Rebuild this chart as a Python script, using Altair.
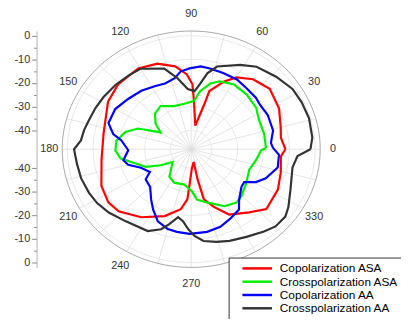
import altair as alt
import pandas as pd
import numpy as np

SERIES = ["Copolarization ASA", "Crosspolarization ASA", "Copolarization AA", "Crosspolarization AA"]
COLORS = ["#ff0000", "#00ee00", "#0000ff", "#333333"]

# radial scale (dB): centre and outer frame
DB_CENTER = -48
DB_OUTER = 2

RED_ANG = [0, 8, 15, 27, 40, 51, 60, 66, 74, 75, 81, 87, 89, 93, 100, 110, 121, 136, 148, 169, 187, 204,
           215, 223, 236, 250, 261, 266, 272, 280, 281, 283, 290, 298, 310, 319, 333, 344, 355]
RED_DB = [-11.5, -12.9, -12.1, -9.8, -8.3, -9.9, -12.9, -16.6, -22.4, -28.1, -37.9, -27.6, -20.5, -16.3,
          -12.4, -9.5, -8.1, -8.6, -10.0, -13.4, -13.0, -9.9, -8.8, -9.5, -13.3, -17.9, -22.3, -26.7, -40.0,
          -42.5, -35.0, -26.2, -21.9, -16.7, -13.1, -9.4, -10.3, -11.9, -13.1]

GREEN_ANG = [1, 13, 25, 35, 47, 59, 69, 75, 82, 87, 98, 110, 123, 133, 142, 149, 157, 164, 173, 181, 188,
             193, 203, 210, 217, 234, 245, 260, 271, 276, 285, 298, 308, 314, 326, 339, 350, 359]
GREEN_DB = [-19.0, -19.0, -19.0, -17.3, -16.4, -16.0, -17.2, -19.2, -23.2, -27.6, -28.6, -28.6, -26.2,
            -27.4, -30.5, -34.2, -25.6, -21.5, -18.8, -18.6, -20.3, -24.1, -28.9, -34.4, -39.0, -33.6,
            -32.4, -32.8, -30.1, -26.6, -24.7, -20.7, -19.4, -20.1, -22.3, -23.9, -22.4, -20.9]

BLUE_ANG = [1, 5, 14, 26, 35, 41, 50, 59, 69, 78, 84, 91, 97, 102, 110, 118, 128, 139, 150, 161, 168, 172,
            181, 190, 195, 202, 211, 216, 225, 234, 240, 247, 255, 261, 269, 280, 289, 297, 306, 311, 321,
            326, 331, 337, 347, 356]
BLUE_DB = [-16.3, -17.0, -15.3, -15.0, -15.4, -14.8, -14.5, -13.6, -13.5, -13.1, -12.8, -13.8, -14.8,
           -17.3, -18.4, -17.8, -16.6, -15.6, -14.0, -14.1, -17.1, -20.6, -23.6, -21.3, -22.7, -27.0,
           -29.3, -26.2, -25.5, -21.6, -18.5, -14.9, -13.0, -12.6, -12.2, -12.5, -13.3, -14.9, -16.5,
           -19.7, -22.9, -23.2, -19.3, -16.6, -13.6, -13.9]

BLACK_ANG = [0, 6, 16, 25, 33, 43, 54, 62, 74, 79, 83, 87, 93, 100, 107, 120, 128, 137, 147, 155, 163,
             169, 175, 180, 188, 196, 205, 212, 220, 230, 244, 251, 255, 260, 264, 268, 272, 277, 284,
             291, 300, 309, 315, 322, 327, 336, 349, 356]
BLACK_DB = [-1.8, -0.8, -0.5, -0.8, -1.2, -3.0, -4.9, -7.6, -11.6, -15.3, -20.3, -23.4, -22.5, -17.5,
            -12.3, -8.7, -8.5, -8.0, -7.5, -7.0, -6.5, -5.7, -5.1, -2.6, -3.3, -3.6, -4.3, -5.0, -6.3,
            -8.3, -9.5, -12.2, -15.2, -18.8, -17.4, -14.2, -11.3, -8.9, -7.6, -6.5, -5.2, -3.2, -1.8,
            -1.7, -3.1, -5.9, -8.0, -6.7]

RING_DB = [-40, -30, -20, -10, 0]
SPOKE_ANG = list(range(0, 360, 15))
LABEL_ANG = list(range(0, 360, 30))
AXIS_DB = [0, -10, -20, -30, -40]
AXIS_MINOR_DB = [-5, -15, -25, -35]

R_MAX = DB_OUTER - DB_CENTER
FONT = "Liberation Sans"

rows = []
for name, angs, dbs in zip(SERIES, [RED_ANG, GREEN_ANG, BLUE_ANG, BLACK_ANG],
                           [RED_DB, GREEN_DB, BLUE_DB, BLACK_DB]):
    aa = angs + [angs[0]]
    dd = dbs + [dbs[0]]
    for i, (a, d) in enumerate(zip(aa, dd)):
        rows.append({"series": name, "angle": a, "db": d, "order": i})
curves = pd.DataFrame(rows)

ring_rows = []
for rdb in RING_DB + [DB_OUTER]:
    for a in range(0, 361, 3):
        ring_rows.append({"ring": rdb, "angle": a, "db": rdb, "outer": rdb == DB_OUTER})
rings = pd.DataFrame(ring_rows)

spokes = pd.DataFrame({"angle": SPOKE_ANG})
labels = pd.DataFrame({"angle": LABEL_ANG, "text": [str(a) for a in LABEL_ANG]})

xs = alt.Scale(domain=[-R_MAX, R_MAX], nice=False, zero=False)
ys = alt.Scale(domain=[-R_MAX, R_MAX], nice=False, zero=False)


def polarize(ch):
    return ch.transform_calculate(r=f"datum.db - ({DB_CENTER})").transform_calculate(
        x="datum.r * cos(datum.angle * PI / 180)",
        y="datum.r * sin(datum.angle * PI / 180)")


ticks_all = []
for d in AXIS_DB + AXIS_MINOR_DB:
    v = d - DB_CENTER
    ticks_all += [v, -v]
ticks_all = sorted(ticks_all)

label_expr = (f"abs(datum.value) == {-DB_CENTER} ? '0' : "
              f"((abs(datum.value) + 2) % 10 == 0 ? '-' + toString({-DB_CENTER} - abs(datum.value)) : '')")

y_axis = alt.Axis(orient="left", offset=26, values=ticks_all, labelExpr=label_expr, grid=False,
                  title=None, domainColor="#b0b0b0", tickColor="#888888",
                  tickSize={"condition": {"test": "(abs(datum.value) + 2) % 10 == 0", "value": 5}, "value": 3},
                  labelFont=FONT, labelFontSize=11, labelColor="#333333", labelPadding=2,
                  labelOverlap=False)

X = lambda f: alt.X(f, scale=xs, axis=None)
Y = lambda f: alt.Y(f, scale=ys, axis=y_axis)

spoke_layer = alt.Chart(spokes).mark_rule(color="#dcdcdc", strokeWidth=0.8).transform_calculate(
    x0="0", y0="0",
    x1=f"{R_MAX} * cos(datum.angle * PI / 180)",
    y1=f"{R_MAX} * sin(datum.angle * PI / 180)",
).encode(
    x=X("x0:Q"), y=Y("y0:Q"),
    x2="x1:Q", y2="y1:Q",
)

ring_layer = polarize(alt.Chart(rings).transform_filter("!datum.outer")).mark_line(
    color="#e2e2e2", strokeWidth=0.8).encode(
    x=X("x:Q"), y=Y("y:Q"),
    detail="ring:N", order="angle:Q",
)

frame_layer = polarize(alt.Chart(rings).transform_filter("datum.outer")).mark_line(
    color="#a8a8a8", strokeWidth=1).encode(
    x=X("x:Q"), y=Y("y:Q"),
    order="angle:Q",
)

line_layer = polarize(alt.Chart(curves)).mark_line(strokeWidth=2.2).encode(
    x=X("x:Q"), y=Y("y:Q"),
    color=alt.Color("series:N", scale=alt.Scale(domain=SERIES, range=COLORS),
                    legend=alt.Legend(orient="none", legendX=169, legendY=230, title=None,
                                      symbolType="M-6,0L6,0", symbolSize=25, symbolStrokeWidth=2.5,
                                      labelFont=FONT, labelFontSize=12, labelColor="black",
                                      strokeColor="#333333", fillColor="white", padding=5,
                                      rowPadding=1.5, symbolOffset=18, labelOffset=17)),
    order="order:Q",
)

label_layer = alt.Chart(labels).mark_text(font=FONT, fontSize=11, color="#333333",
                                           align="center", baseline="middle").transform_calculate(
    x=f"{R_MAX + 5} * cos(datum.angle * PI / 180)",
    y=f"{R_MAX + 7} * sin(datum.angle * PI / 180)",
).encode(
    x=X("x:Q"), y=Y("y:Q"),
    text="text:N",
)

chart = alt.layer(spoke_layer, ring_layer, frame_layer, line_layer, label_layer).properties(
    width=262, height=240,
    autosize=alt.AutoSizeParams(type="none"),
    padding={"left": 55, "top": 21, "right": 82, "bottom": 50},
).configure_view(stroke=None)

chart.save("out.html", embed_options={"renderer": "svg", "actions": False})
